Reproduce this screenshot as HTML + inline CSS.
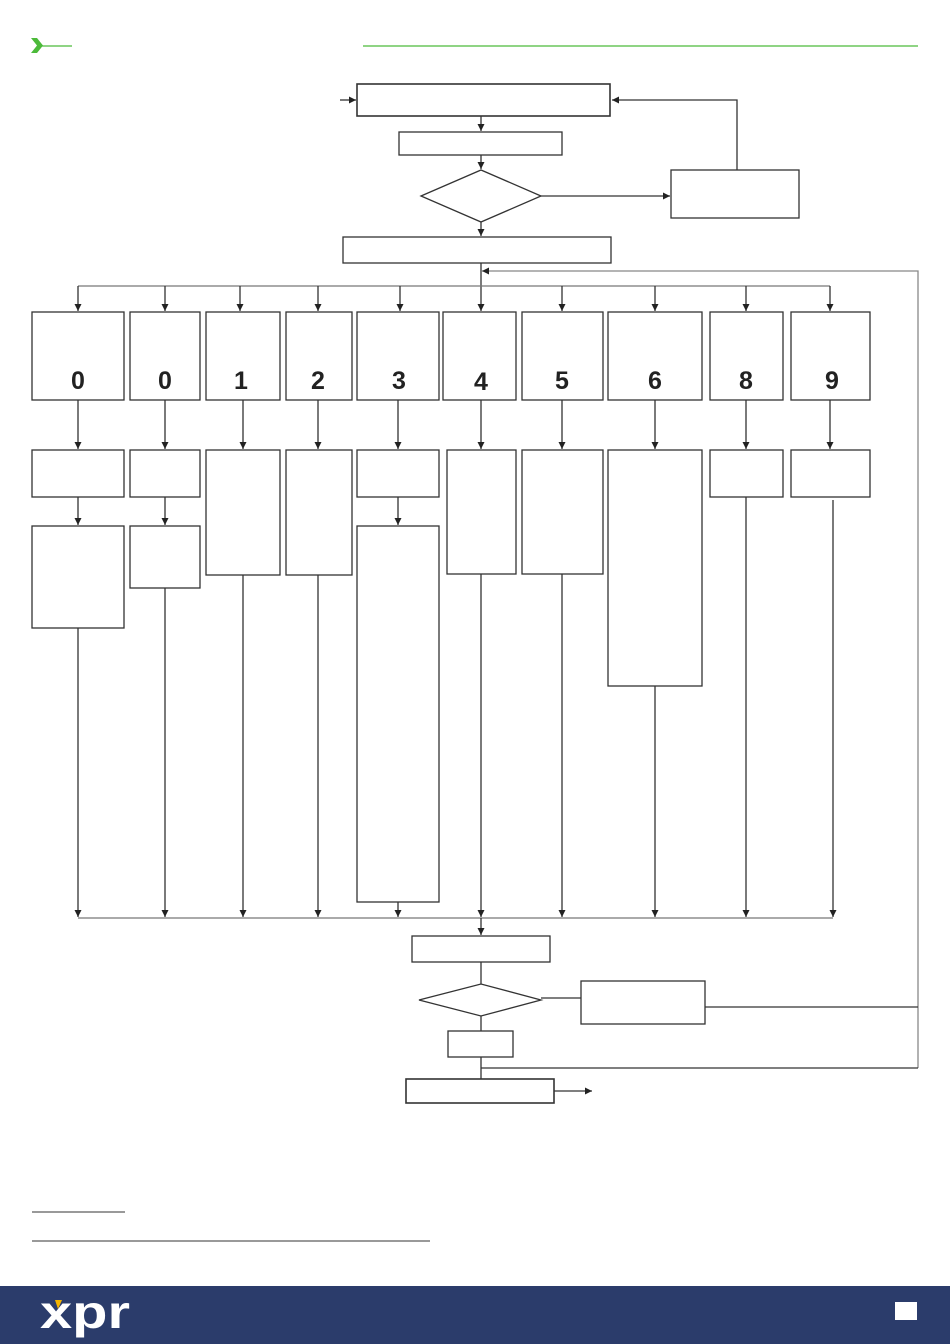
<!DOCTYPE html>
<html><head><meta charset="utf-8"><style>
html,body{margin:0;padding:0;background:#fff;}
body{width:950px;height:1344px;overflow:hidden;}
svg{display:block;}
text{font-family:"Liberation Sans",Arial,sans-serif;}
</style></head><body>
<svg width="950" height="1344" viewBox="0 0 950 1344" xmlns="http://www.w3.org/2000/svg">
<defs>
<marker id="a" viewBox="0 0 10 10" refX="10" refY="5" markerWidth="7" markerHeight="7" orient="auto" markerUnits="userSpaceOnUse"><path d="M0,0 L10,5 L0,10 z" fill="#222"/></marker>
</defs>
<!-- header -->
<path d="M31,38 L37,38 L43,45.5 L37,53 L31,53 L37,45.5 z" fill="#4cba3a"/>
<line x1="42" y1="46" x2="72" y2="46" stroke="#4cba3a" stroke-width="1.2"/>
<line x1="363" y1="46" x2="918" y2="46" stroke="#4cba3a" stroke-width="1.2"/>

<g fill="none" stroke="#333" stroke-width="1.3">
<rect x="357" y="84" width="253" height="32" stroke-width="1.6"/>
<line x1="340" y1="100" x2="356" y2="100" marker-end="url(#a)"/>
<line x1="481" y1="116" x2="481" y2="131" marker-end="url(#a)"/>
<rect x="399" y="132" width="163" height="23"/>
<line x1="481" y1="155" x2="481" y2="169" marker-end="url(#a)"/>
<path d="M421,196 L481,170 L541,196 L481,222 z"/>
<line x1="541" y1="196" x2="670" y2="196" marker-end="url(#a)"/>
<rect x="671" y="170" width="128" height="48"/>
<polyline points="737,170 737,100 612,100" marker-end="url(#a)"/>
<line x1="481" y1="222" x2="481" y2="236" marker-end="url(#a)"/>
<rect x="343" y="237" width="268" height="26"/>
<line x1="481" y1="263" x2="481" y2="311" marker-end="url(#a)"/>
<polyline points="918,1068 918,271 482,271" marker-end="url(#a)" stroke="#888"/>
<line x1="78" y1="286" x2="830" y2="286" stroke="#777"/>

<line x1="78" y1="286" x2="78" y2="311" marker-end="url(#a)"/>
<line x1="165" y1="286" x2="165" y2="311" marker-end="url(#a)"/>
<line x1="240" y1="286" x2="240" y2="311" marker-end="url(#a)"/>
<line x1="318" y1="286" x2="318" y2="311" marker-end="url(#a)"/>
<line x1="400" y1="286" x2="400" y2="311" marker-end="url(#a)"/>
<line x1="562" y1="286" x2="562" y2="311" marker-end="url(#a)"/>
<line x1="655" y1="286" x2="655" y2="311" marker-end="url(#a)"/>
<line x1="746" y1="286" x2="746" y2="311" marker-end="url(#a)"/>
<line x1="830" y1="286" x2="830" y2="311" marker-end="url(#a)"/>

<rect x="32" y="312" width="92" height="88"/>
<rect x="130" y="312" width="70" height="88"/>
<rect x="206" y="312" width="74" height="88"/>
<rect x="286" y="312" width="66" height="88"/>
<rect x="357" y="312" width="82" height="88"/>
<rect x="443" y="312" width="73" height="88"/>
<rect x="522" y="312" width="81" height="88"/>
<rect x="608" y="312" width="94" height="88"/>
<rect x="710" y="312" width="73" height="88"/>
<rect x="791" y="312" width="79" height="88"/>

<line x1="78" y1="400" x2="78" y2="449" marker-end="url(#a)"/>
<line x1="165" y1="400" x2="165" y2="449" marker-end="url(#a)"/>
<line x1="243" y1="400" x2="243" y2="449" marker-end="url(#a)"/>
<line x1="318" y1="400" x2="318" y2="449" marker-end="url(#a)"/>
<line x1="398" y1="400" x2="398" y2="449" marker-end="url(#a)"/>
<line x1="481" y1="400" x2="481" y2="449" marker-end="url(#a)"/>
<line x1="562" y1="400" x2="562" y2="449" marker-end="url(#a)"/>
<line x1="655" y1="400" x2="655" y2="449" marker-end="url(#a)"/>
<line x1="746" y1="400" x2="746" y2="449" marker-end="url(#a)"/>
<line x1="830" y1="400" x2="830" y2="449" marker-end="url(#a)"/>

<rect x="32" y="450" width="92" height="47"/>
<line x1="78" y1="497" x2="78" y2="525" marker-end="url(#a)"/>
<rect x="32" y="526" width="92" height="102"/>
<rect x="130" y="450" width="70" height="47"/>
<line x1="165" y1="497" x2="165" y2="525" marker-end="url(#a)"/>
<rect x="130" y="526" width="70" height="62"/>
<rect x="206" y="450" width="74" height="125"/>
<rect x="286" y="450" width="66" height="125"/>
<rect x="357" y="450" width="82" height="47"/>
<line x1="398" y1="497" x2="398" y2="525" marker-end="url(#a)"/>
<rect x="357" y="526" width="82" height="376"/>
<rect x="447" y="450" width="69" height="124"/>
<rect x="522" y="450" width="81" height="124"/>
<rect x="608" y="450" width="94" height="236"/>
<rect x="710" y="450" width="73" height="47"/>
<rect x="791" y="450" width="79" height="47"/>

<line x1="78" y1="628" x2="78" y2="917" marker-end="url(#a)"/>
<line x1="165" y1="588" x2="165" y2="917" marker-end="url(#a)"/>
<line x1="243" y1="575" x2="243" y2="917" marker-end="url(#a)"/>
<line x1="318" y1="575" x2="318" y2="917" marker-end="url(#a)"/>
<line x1="398" y1="902" x2="398" y2="917" marker-end="url(#a)"/>
<line x1="481" y1="574" x2="481" y2="917" marker-end="url(#a)"/>
<line x1="562" y1="574" x2="562" y2="917" marker-end="url(#a)"/>
<line x1="655" y1="686" x2="655" y2="917" marker-end="url(#a)"/>
<line x1="746" y1="497" x2="746" y2="917" marker-end="url(#a)"/>
<line x1="833" y1="500" x2="833" y2="917" marker-end="url(#a)"/>
<line x1="78" y1="918" x2="833" y2="918" stroke="#777"/>

<line x1="481" y1="918" x2="481" y2="935" marker-end="url(#a)"/>
<rect x="412" y="936" width="138" height="26"/>
<line x1="481" y1="962" x2="481" y2="984"/>
<path d="M419,1000 L481,984 L541,1000 L481,1016 z"/>
<line x1="541" y1="998" x2="581" y2="998"/>
<rect x="581" y="981" width="124" height="43"/>
<line x1="705" y1="1007" x2="918" y2="1007"/>
<line x1="481" y1="1016" x2="481" y2="1031"/>
<rect x="448" y="1031" width="65" height="26"/>
<line x1="481" y1="1057" x2="481" y2="1079"/>
<line x1="481" y1="1068" x2="918" y2="1068"/>
<rect x="406" y="1079" width="148" height="24" stroke-width="1.6"/>
<line x1="554" y1="1091" x2="592" y2="1091" marker-end="url(#a)"/>

<line x1="32" y1="1212" x2="125" y2="1212" stroke-width="1"/>
<line x1="32" y1="1241" x2="430" y2="1241" stroke-width="1"/>
</g>

<g font-size="25" font-weight="bold" fill="#222" text-anchor="middle">
<text x="78" y="389">0</text>
<text x="165" y="389">0</text>
<text x="241" y="389">1</text>
<text x="318" y="389">2</text>
<text x="399" y="389">3</text>
<text x="481" y="390">4</text>
<text x="562" y="389">5</text>
<text x="655" y="389">6</text>
<text x="746" y="389">8</text>
<text x="832" y="389">9</text>
</g>

<rect x="0" y="1286" width="950" height="58" fill="#2b3c6b"/>
<text x="40" y="1328" font-size="46" font-weight="bold" fill="#fff" textLength="90" lengthAdjust="spacingAndGlyphs">xpr</text>
<path d="M55,1300 L62,1300 L58,1309 z" fill="#f4b400"/>
<rect x="895" y="1302" width="22" height="18" fill="#fff"/>
</svg>
</body></html>
